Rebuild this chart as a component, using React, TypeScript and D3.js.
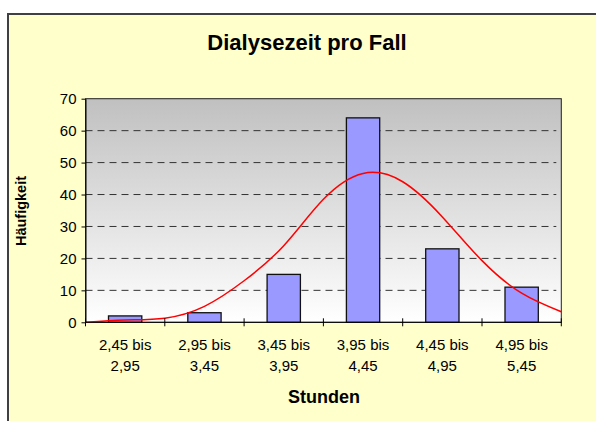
import React, { useEffect, useRef } from 'react';
import * as d3 from 'd3';

const categories = ['2,45 bis|2,95', '2,95 bis|3,45', '3,45 bis|3,95', '3,95 bis|4,45', '4,45 bis|4,95', '4,95 bis|5,45'];
const counts = [2, 3, 15, 64, 23, 11];
const curvePos = [0, 0.5, 1, 1.5, 2, 2.5, 3, 3.5, 4, 4.5, 5, 5.5, 6];
const curveVals = [0, 0.7, 1.3, 5, 13, 24, 38.5, 46.6, 44, 33, 19.3, 9.1, 3.3];
const yTicks = [0, 10, 20, 30, 40, 50, 60, 70];

const W = 596;
const H = 421;
const plot = { left: 85.5, top: 98.7, right: 561.3, bottom: 322.3 };
const font = 'Arial, "Liberation Sans", sans-serif';

export default function App() {
  const ref = useRef<SVGSVGElement>(null);

  useEffect(() => {
    const svg = d3.select(ref.current);
    svg.selectAll('*').remove();

    const defs = svg.append('defs');
    const grad = defs.append('linearGradient')
      .attr('id', 'plotBg')
      .attr('x1', 0).attr('y1', 0).attr('x2', 0).attr('y2', 1);
    grad.append('stop').attr('offset', '0%').attr('stop-color', '#c0c0c0');
    grad.append('stop').attr('offset', '100%').attr('stop-color', '#ffffff');

    // chart frame
    svg.append('rect')
      .attr('x', 8).attr('y', 14)
      .attr('width', 700).attr('height', 500)
      .attr('fill', '#ffffcc')
      .attr('stroke', '#404040')
      .attr('stroke-width', 2);

    const x = d3.scaleBand()
      .domain(categories)
      .range([plot.left, plot.right])
      .paddingInner(0.58)
      .paddingOuter(0.29);
    const xLin = d3.scaleLinear().domain([0, 6]).range([plot.left, plot.right]);
    const y = d3.scaleLinear().domain([0, 70]).range([plot.bottom, plot.top]);

    // plot area
    svg.append('rect')
      .attr('x', plot.left).attr('y', plot.top)
      .attr('width', plot.right - plot.left)
      .attr('height', plot.bottom - plot.top)
      .attr('fill', 'url(#plotBg)')
      .attr('stroke', '#222')
      .attr('stroke-width', 1);

    // gridlines
    svg.append('g')
      .selectAll('line')
      .data(yTicks.filter(t => t > 0 && t < 70))
      .join('line')
      .attr('x1', plot.left).attr('x2', plot.right - 5)
      .attr('y1', d => y(d)).attr('y2', d => y(d))
      .attr('stroke', '#333')
      .attr('stroke-width', 1)
      .attr('stroke-dasharray', '7,5');

    // bars
    svg.append('g')
      .selectAll('rect')
      .data(counts)
      .join('rect')
      .attr('x', (d, i) => x(categories[i])!)
      .attr('y', d => y(d))
      .attr('width', x.bandwidth())
      .attr('height', d => plot.bottom - y(d))
      .attr('fill', '#9999ff')
      .attr('stroke', '#111')
      .attr('stroke-width', 1.3);

    // normal curve
    const line = d3.line<number>()
      .x((d, i) => xLin(curvePos[i]))
      .y(d => y(d))
      .curve(d3.curveNatural);
    svg.append('path')
      .datum(curveVals)
      .attr('d', line)
      .attr('fill', 'none')
      .attr('stroke', '#ff0000')
      .attr('stroke-width', 1.5);

    // y axis
    const yAxis = svg.append('g')
      .attr('transform', `translate(${plot.left},0)`)
      .call(d3.axisLeft(y).tickValues(yTicks).tickSize(4).tickPadding(5).tickSizeOuter(0));
    yAxis.select('.domain').attr('stroke', '#000');
    yAxis.selectAll('line').attr('stroke', '#000');
    yAxis.selectAll('text')
      .attr('font-family', font)
      .attr('font-size', 15)
      .attr('fill', '#000');

    // x axis
    const xAxis = svg.append('g')
      .attr('transform', `translate(0,${plot.bottom})`);
    xAxis.append('line')
      .attr('x1', plot.left).attr('x2', plot.right)
      .attr('y1', 0).attr('y2', 0)
      .attr('stroke', '#000');
    xAxis.selectAll('line.tick')
      .data(d3.range(0, 7))
      .join('line')
      .attr('class', 'tick')
      .attr('x1', d => xLin(d)).attr('x2', d => xLin(d))
      .attr('y1', -4).attr('y2', 4)
      .attr('stroke', '#000');
    const labels = xAxis.selectAll('text')
      .data(categories)
      .join('text')
      .attr('font-family', font)
      .attr('font-size', 15)
      .attr('text-anchor', 'middle')
      .attr('fill', '#000');
    labels.each(function (d) {
      const parts = d.split('|');
      const t = d3.select(this);
      const cx = x(d)! + x.bandwidth() / 2;
      parts.forEach((p, k) => {
        t.append('tspan').attr('x', cx).attr('y', 28 + k * 21).text(p);
      });
    });

    // titles
    svg.append('text')
      .attr('x', 307).attr('y', 49.5)
      .attr('text-anchor', 'middle')
      .attr('font-family', font)
      .attr('font-size', 22)
      .attr('font-weight', 'bold')
      .text('Dialysezeit pro Fall');

    svg.append('text')
      .attr('x', 324).attr('y', 403)
      .attr('text-anchor', 'middle')
      .attr('font-family', font)
      .attr('font-size', 18)
      .attr('font-weight', 'bold')
      .text('Stunden');

    svg.append('text')
      .attr('transform', 'translate(25.5,211) rotate(-90)')
      .attr('text-anchor', 'middle')
      .attr('font-family', font)
      .attr('font-size', 14.5)
      .attr('font-weight', 'bold')
      .text('Häufigkeit');
  }, []);

  return (
    <svg
      ref={ref}
      width={W}
      height={H}
      style={{ position: 'absolute', left: 0, top: 0, background: '#fff', display: 'block' }}
    />
  );
}
